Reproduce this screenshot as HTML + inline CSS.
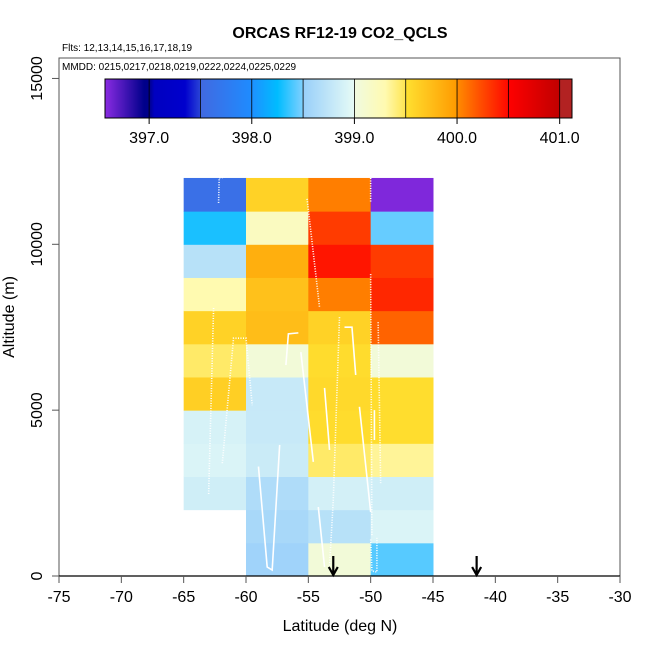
<!DOCTYPE html>
<html><head><meta charset="utf-8">
<style>
html,body{margin:0;padding:0;background:#fff;}
svg text{font-family:"Liberation Sans",Arial,sans-serif;}
</style></head>
<body>
<svg id="chart" width="650" height="650" viewBox="0 0 650 650" xmlns="http://www.w3.org/2000/svg">
<text x="340" y="38" font-size="16" font-weight="bold" text-anchor="middle">ORCAS RF12-19 CO2_QCLS</text>
<text x="62" y="51" font-size="10">Flts: 12,13,14,15,16,17,18,19</text>
<text x="62" y="70" font-size="10">MMDD: 0215,0217,0218,0219,0222,0224,0225,0229</text>
<g id="cells"></g>
<g id="tracks"></g>
<g id="arrows"></g>
<g id="axes"></g>
<g id="cbar"></g>
<text x="340" y="631" font-size="16" text-anchor="middle">Latitude (deg N)</text>
<text transform="translate(14,317) rotate(-90)" font-size="16" text-anchor="middle">Altitude (m)</text>
</svg>
<script>
// ---- data ----
const latBins = [-65, -60, -55, -50];       // left edge of each 5-deg column
const altBins = [0,1000,2000,3000,4000,5000,6000,7000,8000,9000,10000,11000]; // bottom of each 1000 m row
// CO2 values per column, row 0 (0-1000 m) upward; null = no data
const co2Col65 = [null, null, 398.85, 398.92, 398.9, 399.62, 399.45, 399.6, 399.3, 398.7, 398.3, 397.6];
const co2Col60 = [398.55, 398.6, 398.65, 398.82, 398.8, 398.8, 399.05, 399.75, 399.72, 399.85, 399.2, 399.6];
const co2Col55 = [399.05, 398.7, 398.88, 399.45, 399.53, 399.55, 399.53, 399.6, 400.05, 400.45, 400.3, 400.05];
const co2Col50 = [398.42, 398.92, 398.85, 399.35, 399.52, 399.52, 399.05, 400.15, 400.38, 400.3, 398.45, 396.6];
const co2Grid = [co2Col65, co2Col60, co2Col55, co2Col50];
const xTicks = [-75,-70,-65,-60,-55,-50,-45,-40,-35,-30];
const yTicks = [0,5000,10000,15000];
const cbTicks = [397.0, 398.0, 399.0, 400.0, 401.0];
const arrowLats = [-53, -41.5];
// flight track segments: [lat, alt] pairs; dotted flag
const trackLats = [
 [-62.2,-62.15,-61.3],[-62.6,-63.0],[-61.9,-61.0,-60.0,-59.5],[-59.0,-58.3,-57.9,-57.3],
 [-56.8,-56.6,-55.8],[-55.6,-54.6],[-55.1,-54.1],[-53.7,-53.3],[-52.5,-53.0,-53.3],
 [-54.2,-53.7],[-52.1,-51.5,-51.2],[-50.9,-50.0],[-50.0,-50.0],[-50.0,-49.9],
 [-49.4,-49.2],[-49.7,-49.7],[-50.0,-49.9,-49.5,-49.5]];
const trackAlts = [
 [11250,12000,12050],[8080,2440],[3400,7170,7170,5150],[3300,270,180,3950],
 [6360,7300,7330],[6750,3440],[11370,8100],[5670,3800],[7800,2290,270],
 [2080,270],[7500,7500,6060],[5100,1930],[12000,11250],[9100,1200],
 [7650,2800],[4100,5000],[1100,150,120,1150]];
const trackDotted = [1,1,1,0,0,0,1,0,1,0,0,0,1,1,1,0,1];
// ---- scales ----
const X0=59, X1=620, LAT0=-75, LAT1=-30;
const Y0=576, PXM=0.03317;
const xs = v => X0 + (v-LAT0)*(X1-X0)/(LAT1-LAT0);
const ys = a => Y0 - a*PXM;
const CB0=105, CB1=572, CBV0=396.57, CBV1=401.12;
const cbx = v => CB0 + (v-CBV0)*(CB1-CB0)/(CBV1-CBV0);
const stops = [
 [396.57,'#8a2be2'],[396.95,'#00008b'],[397.0,'#00008b'],[397.05,'#0000c0'],[397.35,'#0000cd'],[397.5,'#2a44d6'],
 [397.5001,'#4169e1'],[398.0,'#1e8cff'],[398.0001,'#1e90ff'],[398.25,'#00bcff'],[398.5,'#80d0ff'],
 [398.5001,'#98cffa'],[399.0,'#e6fbf6'],[399.0001,'#f0fae0'],[399.3,'#fffab0'],[399.5,'#ffe450'],
 [399.5001,'#ffe030'],[400.0,'#ff9a00'],[400.0001,'#ff8c00'],[400.25,'#ff4800'],[400.5,'#ff0800'],
 [400.5001,'#ff0000'],[401.0,'#c00000'],[401.0001,'#b22222'],[401.12,'#b22222']];
function hex2rgb(h){return [1,3,5].map(i=>parseInt(h.substr(i,2),16));}
function color(v){
  if(v<=stops[0][0]) return stops[0][1];
  for(let i=1;i<stops.length;i++){
    if(v<=stops[i][0]){
      const [a,ca]=stops[i-1],[b,cb]=stops[i];
      const t=(v-a)/(b-a), A=hex2rgb(ca), B=hex2rgb(cb);
      return 'rgb('+A.map((x,k)=>Math.round(x+(B[k]-x)*t)).join(',')+')';
    }
  }
  return stops[stops.length-1][1];
}
const NS='http://www.w3.org/2000/svg';
function mk(tag, parent, attrs){const e=document.createElementNS(NS,tag);for(const k in attrs)e.setAttribute(k,attrs[k]);parent.appendChild(e);return e;}
// cells
const gc=document.getElementById('cells');
co2Grid.forEach((col,ci)=>{
  col.forEach((v,ri)=>{
    if(v===null) return;
    const x=xs(latBins[ci]), x2=xs(latBins[ci]+5), y=ys(altBins[ri]+1000), y2=ys(altBins[ri]);
    const r=mk('rect',gc,{x:x,y:y,width:x2-x+0.5,height:y2-y+0.5,fill:color(v)});
    
    
  });
});
// tracks
const gt=document.getElementById('tracks');
trackLats.forEach((lats,i)=>{
  const pts=lats.map((l,k)=>xs(l)+','+ys(trackAlts[i][k])).join(' ');
  const p=mk('polyline',gt,{points:pts,fill:'none',stroke:'#fff','stroke-width':1.6,'stroke-dasharray':trackDotted[i]?'1 1.5':'none'});
  
  
});
// arrows
const ga=document.getElementById('arrows');
arrowLats.forEach(l=>{
  const x=xs(l);
  const a=mk('path',ga,{d:`M${x},556 L${x},575 M${x-4.5},567 L${x},575 L${x+4.5},567`,stroke:'#000','stroke-width':2.2,fill:'none'});
  
  
});
// axes
const gx=document.getElementById('axes');
mk('rect',gx,{x:X0,y:58,width:X1-X0,height:Y0-58,fill:'none',stroke:'#555','stroke-width':1});
mk('line',gx,{x1:X0,y1:Y0,x2:X1,y2:Y0,stroke:'#000','stroke-width':1.2});
xTicks.forEach(t=>{
  const x=xs(t);
  mk('line',gx,{x1:x,y1:Y0,x2:x,y2:Y0+7,stroke:'#555'});
  const tx=mk('text',gx,{x:x,y:602,'font-size':16,'text-anchor':'middle'});
  tx.textContent=t;
  
  
});
yTicks.forEach(t=>{
  const y=ys(t);
  mk('line',gx,{x1:X0-7,y1:y,x2:X0,y2:y,stroke:'#555'});
  const tx=mk('text',gx,{transform:`translate(42,${y}) rotate(-90)`,'font-size':16,'text-anchor':'middle'});
  tx.textContent=t;
  
  
});
// colorbar
const gb=document.getElementById('cbar');
for(let px=CB0;px<CB1;px+=1){
  const v=CBV0+(px+0.5-CB0)*(CBV1-CBV0)/(CB1-CB0);
  mk('rect',gb,{x:px,y:79,width:1.2,height:39,fill:color(v)});
}
for(let v=397.0; v<=401.001; v+=0.5){
  mk('line',gb,{x1:cbx(v),y1:79,x2:cbx(v),y2:118,stroke:'#000','stroke-width':0.8});
}
mk('rect',gb,{x:CB0,y:79,width:CB1-CB0,height:39,fill:'none',stroke:'#000','stroke-width':1});
cbTicks.forEach(t=>{
  const x=cbx(t);
  mk('line',gb,{x1:x,y1:118,x2:x,y2:124,stroke:'#000'});
  const tx=mk('text',gb,{x:x,y:143,'font-size':16,'text-anchor':'middle'});
  tx.textContent=t.toFixed(1);
  
  
});
</script>
</body></html>
